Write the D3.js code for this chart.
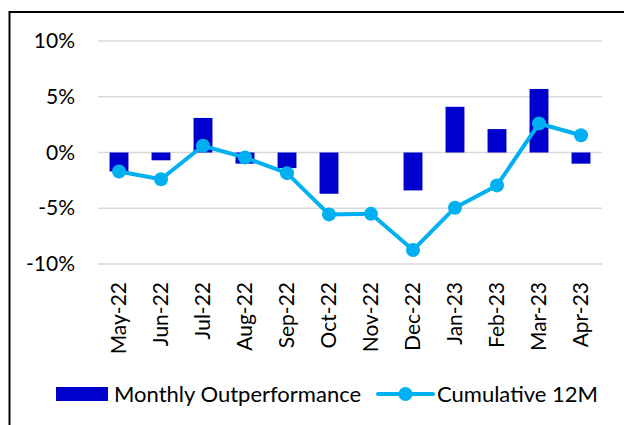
<!DOCTYPE html>
<html lang="en">
<head>
    <meta charset="UTF-8">
    <script src="https://cdn.jsdelivr.net/npm/d3@7/dist/d3.min.js"></script>
    <title>Outperformance</title>
    <style>
        body { margin: 0; background: #fff; }
        svg { display: block; font-family: Lato, "Noto Sans", sans-serif; }
    </style>
</head>
<body>
    <svg id="chart"></svg>
<script>
    const months = ["May-22", "Jun-22", "Jul-22", "Aug-22", "Sep-22", "Oct-22",
        "Nov-22", "Dec-22", "Jan-23", "Feb-23", "Mar-23", "Apr-23"];
    const monthly = [-1.7, -0.7, 3.1, -1.0, -1.4, -3.7, 0, -3.4, 4.1, 2.1, 5.7, -1.0];
    const cumulative = [-1.7, -2.4, 0.6, -0.45, -1.85, -5.55, -5.5, -8.75, -4.95, -2.95, 2.6, 1.55];
    const yTicks = [-10, -5, 0, 5, 10];
    const legendLabels = ["Monthly Outperformance", "Cumulative 12M"];

    const width = 624, height = 425;
    const barColor = "#0000cc", lineColor = "#00b0f0";

    const svg = d3.select("#chart").attr("width", width).attr("height", height);

    // chart frame (top and left edges only)
    svg.append("path")
        .attr("d", `M9.5,${height}V12H${width}`)
        .attr("fill", "none")
        .attr("stroke", "#000")
        .attr("stroke-width", 2);

    const x = d3.scaleBand(months, [98, 602]).paddingInner(0.55).paddingOuter(0.275);
    const y = d3.scaleLinear([-10, 10], [264, 41]);

    // gridlines
    svg.append("g")
        .selectAll("line")
        .data(yTicks)
        .join("line")
        .attr("x1", 98).attr("x2", 602)
        .attr("y1", d => y(d)).attr("y2", d => y(d))
        .attr("stroke", "#d9d9d9")
        .attr("stroke-width", 1.5);

    // y axis labels
    const yAxis = svg.append("g")
        .attr("transform", "translate(83,0)")
        .call(d3.axisLeft(y).tickValues(yTicks).tickFormat(d => d + "%").tickSize(0).tickPadding(8));
    yAxis.select(".domain").remove();
    yAxis.selectAll("text")
        .attr("font-size", 21)
        .attr("font-family", "Lato, sans-serif")
        .attr("fill", "#000");

    // bars
    svg.append("g")
        .selectAll("rect")
        .data(months)
        .join("rect")
        .attr("x", d => x(d))
        .attr("width", x.bandwidth())
        .attr("y", (d, i) => y(Math.max(0, monthly[i])))
        .attr("height", (d, i) => Math.abs(y(monthly[i]) - y(0)))
        .attr("fill", barColor);

    // cumulative line
    const cx = d => x(d) + x.bandwidth() / 2;
    svg.append("path")
        .datum(months)
        .attr("fill", "none")
        .attr("stroke", lineColor)
        .attr("stroke-width", 4)
        .attr("stroke-linejoin", "round")
        .attr("d", d3.line().x(d => cx(d)).y((d, i) => y(cumulative[i])));

    svg.append("g")
        .selectAll("circle")
        .data(months)
        .join("circle")
        .attr("cx", d => cx(d))
        .attr("cy", (d, i) => y(cumulative[i]))
        .attr("r", 7)
        .attr("fill", lineColor);

    // x axis labels, rotated
    const xAxis = svg.append("g")
        .attr("transform", "translate(0,272)")
        .call(d3.axisBottom(x).tickSize(0).tickPadding(0));
    xAxis.select(".domain").remove();
    xAxis.selectAll("text")
        .attr("font-size", 21)
        .attr("font-family", "Lato, sans-serif")
        .attr("fill", "#000")
        .attr("transform", "rotate(-90)")
        .attr("text-anchor", "end")
        .attr("x", -10)
        .attr("y", 0)
        .attr("dy", "0.35em");

    // legend
    const legend = svg.append("g").attr("font-size", 22).attr("fill", "#000");
    legend.append("rect")
        .attr("x", 56).attr("y", 387)
        .attr("width", 52).attr("height", 14)
        .attr("fill", barColor);
    legend.append("text")
        .attr("x", 114).attr("y", 394).attr("dy", "0.35em")
        .text(legendLabels[0]);
    legend.append("line")
        .attr("x1", 378).attr("x2", 433)
        .attr("y1", 394).attr("y2", 394)
        .attr("stroke", lineColor)
        .attr("stroke-width", 4)
        .attr("stroke-linecap", "round");
    legend.append("circle")
        .attr("cx", 405.5).attr("cy", 394).attr("r", 7)
        .attr("fill", lineColor);
    legend.append("text")
        .attr("x", 437).attr("y", 394).attr("dy", "0.35em")
        .text(legendLabels[1]);
</script>
</body>
</html>
